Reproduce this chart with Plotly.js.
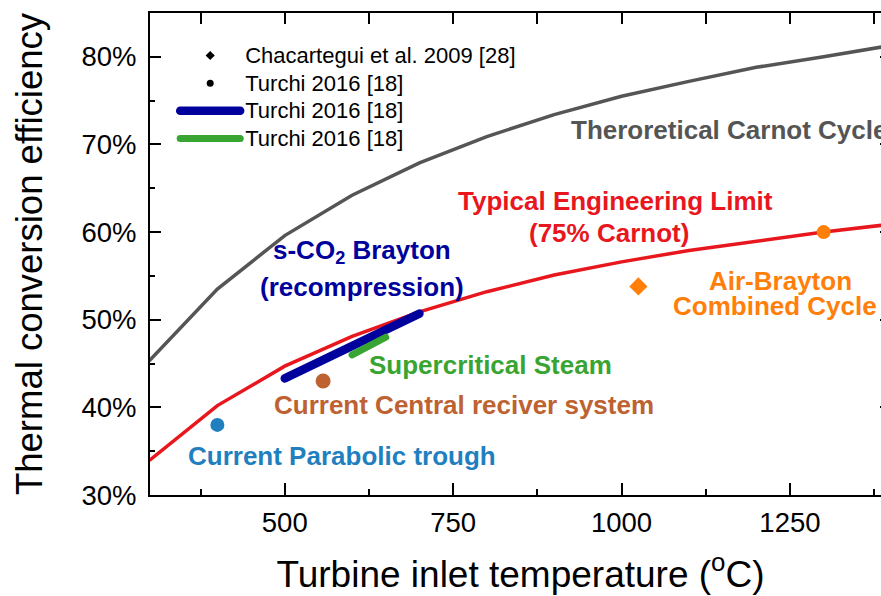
<!DOCTYPE html>
<html>
<head>
<meta charset="utf-8">
<script src="https://cdn.plot.ly/plotly-3.0.1.min.js"></script>
<style>
  html, body { margin: 0; padding: 0; overflow: hidden; background: #fff; }
  #chart { width: 891px; height: 596px; }
  .js-line { stroke-linecap: round; }
</style>
</head>
<body>
<div id="chart"></div>
<script>
// Turbine inlet temperature grid (°C) for the efficiency limit curves
const tempGrid = [300, 400, 500, 600, 700, 800, 900, 1000, 1100, 1200, 1300, 1400];
// Theoretical Carnot efficiency (%)
const carnotEff = [45.4, 53.5, 59.6, 64.2, 67.9, 70.9, 73.4, 75.5, 77.2, 78.8, 80.0, 81.3];
// Typical engineering limit, 75% of Carnot (%)
const engLimitEff = [34.0, 40.2, 44.7, 48.1, 50.9, 53.2, 55.1, 56.6, 57.9, 59.0, 60.0, 60.9];

// s-CO2 recompression Brayton (Turchi 2016)
const sco2Temp = [500, 600, 700];
const sco2Eff = [43.3, 47.0, 50.7];
// Supercritical steam (Turchi 2016)
const steamTemp = [600, 650];
const steamEff = [46.0, 48.0];

// Single operating points
const troughTemp = [400];
const troughEff = [38.0];
const centralTemp = [557];
const centralEff = [43.0];
const airBraytonCcTemp = [1025];
const airBraytonCcEff = [53.8];
const airBraytonTemp = [1300];
const airBraytonEff = [60.0];

// Legend entries (source references)
const legendLabels = ['Chacartegui et al. 2009 [28]', 'Turchi 2016 [18]', 'Turchi 2016 [18]', 'Turchi 2016 [18]'];

const FONT = 'Liberation Sans, Arial, Helvetica, sans-serif';
const X_RANGE = [300, 1400];
const Y_RANGE = [30, 85];
const C = {
  carnot: '#555555', limit: '#e8161d', sco2: '#00009c', steam: '#38a532',
  central: '#bd6230', trough: '#1f7fbf', air: '#ff7f0a'
};

// legend text is drawn larger than the legend's own font so rows stay tightly packed
const legendName = s => '<span style="font-size:22px">' + s + '</span>';

const traces = [
  { x: tempGrid, y: carnotEff, mode: 'lines', line: { color: C.carnot, width: 3.5 }, showlegend: false, hoverinfo: 'skip' },
  { x: tempGrid, y: engLimitEff, mode: 'lines', line: { color: C.limit, width: 3.5 }, showlegend: false, hoverinfo: 'skip' },
  { x: sco2Temp, y: sco2Eff, mode: 'lines', line: { color: C.sco2, width: 8.5 }, showlegend: false },
  { x: steamTemp, y: steamEff, mode: 'lines', line: { color: C.steam, width: 7 }, showlegend: false },
  { x: troughTemp, y: troughEff, mode: 'markers', marker: { color: C.trough, size: 14, symbol: 'circle' }, showlegend: false },
  { x: centralTemp, y: centralEff, mode: 'markers', marker: { color: C.central, size: 15, symbol: 'circle' }, showlegend: false },
  { x: airBraytonCcTemp, y: airBraytonCcEff, mode: 'markers', marker: { color: C.air, size: 14, symbol: 'diamond' }, showlegend: false },
  { x: airBraytonTemp, y: airBraytonEff, mode: 'markers', marker: { color: C.air, size: 14, symbol: 'circle' }, showlegend: false },
  // legend keys
  { x: [null], y: [null], name: legendName(legendLabels[0]), mode: 'markers', marker: { color: '#000', size: 7, symbol: 'diamond' } },
  { x: [null], y: [null], name: legendName(legendLabels[1]), mode: 'markers', marker: { color: '#000', size: 7, symbol: 'circle' } },
  { x: [null], y: [null], name: legendName(legendLabels[2]), mode: 'lines', line: { color: C.sco2, width: 8.5 } },
  { x: [null], y: [null], name: legendName(legendLabels[3]), mode: 'lines', line: { color: C.steam, width: 7 } },
  // empty traces that bind the minor-tick axes
  { x: [null], y: [null], xaxis: 'x3', yaxis: 'y', showlegend: false, hoverinfo: 'skip' },
  { x: [null], y: [null], xaxis: 'x', yaxis: 'y2', showlegend: false, hoverinfo: 'skip' },
  { x: [null], y: [null], xaxis: 'x2', yaxis: 'y', showlegend: false, hoverinfo: 'skip' }
];

function ann(text, x, y, color, xanchor) {
  return {
    text: '<b>' + text + '</b>', x: x, y: y, xref: 'x', yref: 'y',
    xanchor: xanchor || 'center', yanchor: 'middle', showarrow: false,
    font: { family: FONT, size: 26, color: color }
  };
}

// plain tick-only axis (no labels, no line)
function tickAxis(extra) {
  return Object.assign({
    showticklabels: false, showgrid: false, zeroline: false, showline: false,
    ticks: 'inside', tickwidth: 2, tickcolor: '#000'
  }, extra);
}

const layout = {
  width: 891, height: 596,
  margin: { l: 150, r: 0, t: 13, b: 101 },
  paper_bgcolor: '#fff', plot_bgcolor: '#fff',
  font: { family: FONT, color: '#000' },
  showlegend: true,
  legend: {
    x: 0.034, y: 0.951, xanchor: 'left', yanchor: 'top',
    bgcolor: 'rgba(0,0,0,0)', borderwidth: 0,
    font: { family: FONT, size: 19, color: '#000' },
    itemwidth: 60, tracegroupgap: 0
  },
  xaxis: {
    range: X_RANGE, tick0: 0, dtick: 250,
    showline: true, linecolor: '#000', linewidth: 2, mirror: false,
    ticks: 'inside', ticklen: 12, tickwidth: 2, tickcolor: '#000',
    showgrid: false, zeroline: false,
    tickfont: { family: FONT, size: 27.5, color: '#000' },
    ticklabelstandoff: 2,
    title: { text: 'Turbine inlet temperature (<sup>o</sup>C)', font: { family: FONT, size: 37, color: '#000' }, standoff: 24 }
  },
  // minor ticks along the bottom
  xaxis3: tickAxis({ overlaying: 'x', anchor: 'y', side: 'bottom', range: X_RANGE, tick0: 375, dtick: 250, ticklen: 6 }),
  // top frame with evenly sized ticks
  xaxis2: tickAxis({
    overlaying: 'x', anchor: 'y', side: 'top', range: X_RANGE, tick0: 375, dtick: 125, ticklen: 11,
    showline: true, linecolor: '#000', linewidth: 2
  }),
  yaxis: {
    range: Y_RANGE, tick0: 0, dtick: 10, ticksuffix: '%',
    showline: true, linecolor: '#000', linewidth: 2, mirror: 'ticks',
    ticks: 'inside', ticklen: 11, tickwidth: 2, tickcolor: '#000',
    showgrid: false, zeroline: false,
    tickfont: { family: FONT, size: 27.5, color: '#000' },
    ticklabelstandoff: 6,
    title: { text: 'Thermal conversion efficiency', font: { family: FONT, size: 36.5, color: '#000' }, standoff: 28 }
  },
  // minor ticks along the left side
  yaxis2: tickAxis({ overlaying: 'y', anchor: 'x', side: 'left', range: Y_RANGE, tick0: 35, dtick: 10, ticklen: 5 }),
  annotations: [
    ann('Theroretical Carnot Cycle', 921.5, 71.65, C.carnot, 'left'),
    ann('Typical Engineering Limit', 990.3, 63.55, C.limit),
    ann('(75% Carnot)', 982.1, 59.9, C.limit),
    ann('s-CO<sub>2</sub> Brayton', 615.3, 57.84, C.sco2),
    ann('(recompression)', 614.7, 53.73, C.sco2),
    ann('Air-Brayton', 1236, 54.42, C.air),
    ann('Combined Cycle', 1227.9, 51.57, C.air),
    ann('Supercritical Steam', 806.2, 44.83, C.steam),
    ann('Current Central reciver system', 766.2, 40.27, C.central),
    ann('Current Parabolic trough', 585.0, 34.45, C.trough)
  ]
};

Plotly.newPlot('chart', traces, layout, { staticPlot: true, displayModeBar: false });
</script>
</body>
</html>
